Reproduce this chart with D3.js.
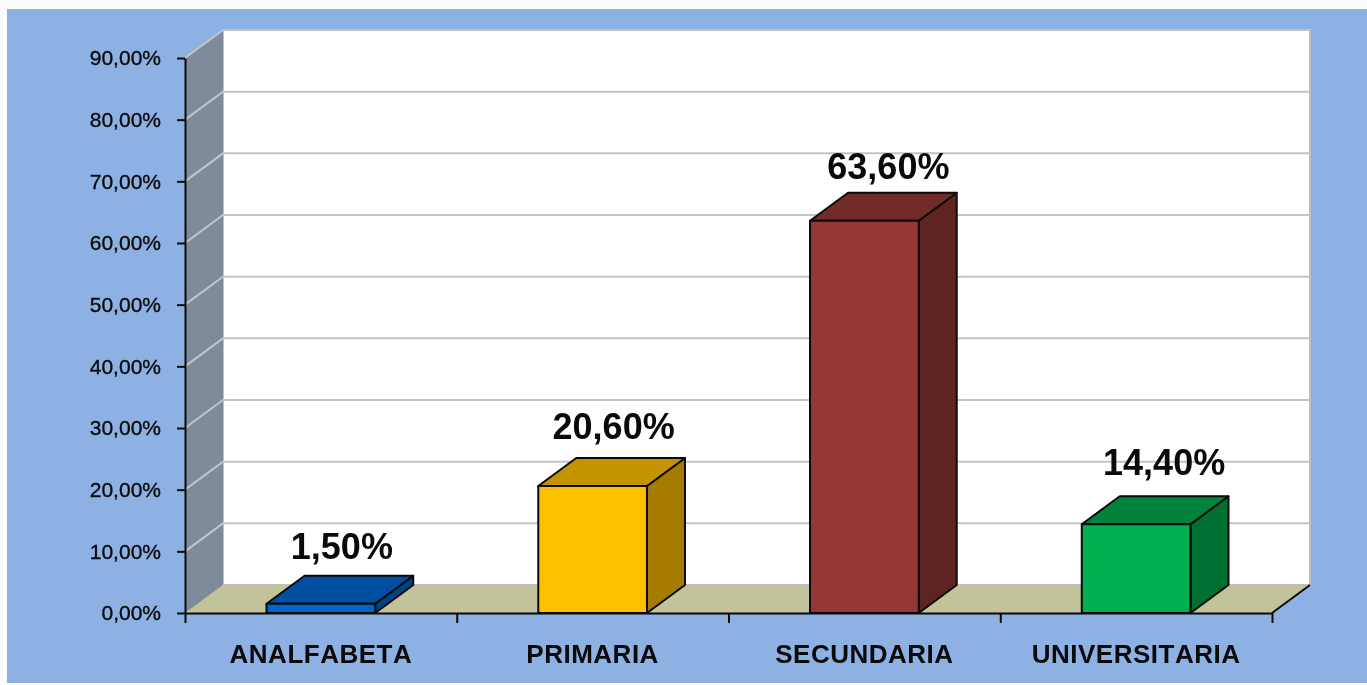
<!doctype html>
<html>
<head>
  <meta charset="utf-8">
  <style>
    html, body {
      margin: 0;
      padding: 0;
      width: 1367px;
      height: 685px;
      background: #fbfcfe;
      overflow: hidden;
    }
    svg { display: block; filter: blur(0.45px); }
    text { font-family: "Liberation Sans", Arial, sans-serif; fill: #0a0a0a; }
    .yaxis text { font-size: 21px; stroke: #0a0a0a; stroke-width: 0.35px; }
    .xaxis text { font-size: 26px; font-weight: bold; letter-spacing: 0.5px; font-kerning: none; }
    .value { font-size: 36px; font-weight: bold; text-anchor: middle; }
  </style>
  <script src="https://cdnjs.cloudflare.com/ajax/libs/d3/7.8.5/d3.min.js"></script>
</head>

<body>
  <svg id="chart" width="1367" height="685"></svg>

  <script>
    var categories = ['ANALFABETA', 'PRIMARIA', 'SECUNDARIA', 'UNIVERSITARIA'];
    var values = [1.5, 20.6, 63.6, 14.4];
    var valueLabels = ['1,50%', '20,60%', '63,60%', '14,40%'];
    var yTicks = [0, 10, 20, 30, 40, 50, 60, 70, 80, 90];
    var frontColors = ['#0066cc', '#ffc000', '#953735', '#00b050'];
    var topColors = ['#004fa0', '#c49300', '#722b29', '#00843c'];
    var sideColors = ['#004488', '#a67c00', '#5f2321', '#006f32'];

    var depthX = 38, depthY = 28;

    // the value labels were nudged by hand in the original
    var labelNudgeX = [21, 21, 24, 28];
    var labelNudgeY = [45, 47, 42, 49];

    var svg = d3.select('#chart');

    var y = d3.scaleLinear().domain([0, 90]).range([613, 58]);
    var x = d3.scaleBand().domain(categories).range([185, 1272]);
    var barWidth = x.bandwidth() * 0.4;

    // panel background
    svg.append('rect')
        .attr('x', 7).attr('y', 9)
        .attr('width', 1360).attr('height', 674)
        .attr('fill', '#8db1e2');

    var left = x.range()[0], right = x.range()[1];

    // back wall
    svg.append('rect')
        .attr('x', left + depthX).attr('y', y(90) - depthY)
        .attr('width', right - left).attr('height', y(0) - y(90))
        .attr('fill', '#ffffff')
        .attr('stroke', '#c0c0c0')
        .attr('stroke-width', 2);

    // side wall
    svg.append('path')
        .attr('d', d3.line()([
          [left, y(0)], [left + depthX, y(0) - depthY],
          [left + depthX, y(90) - depthY], [left, y(90)]
        ]) + 'Z')
        .attr('fill', '#7f8a9b');

    // floor
    svg.append('path')
        .attr('d', d3.line()([
          [left, y(0)], [left + depthX, y(0) - depthY],
          [right + depthX, y(0) - depthY], [right, y(0)]
        ]) + 'Z')
        .attr('fill', '#c2c29b');

    // gridlines
    var grid = svg.append('g')
        .attr('fill', 'none')
        .attr('stroke', '#c4c4c4')
        .attr('stroke-width', 2);

    yTicks.slice(1).forEach(function(t) {
      grid.append('path')
          .attr('d', d3.line()([
            [left, y(t)], [left + depthX, y(t) - depthY], [right + depthX, y(t) - depthY]
          ]));
    });

    // bars
    var bars = svg.selectAll('g.bar')
        .data(values)
        .enter().append('g')
        .attr('class', 'bar')
        .attr('stroke', '#0a0a0a')
        .attr('stroke-width', 2)
        .attr('stroke-linejoin', 'round');

    function x0(i) {
      return x(categories[i]) + (x.bandwidth() - barWidth) / 2;
    }

    bars.append('path')
        .attr('fill', function(d, i) { return sideColors[i]; })
        .attr('d', function(d, i) {
          var r = x0(i) + barWidth;
          return d3.line()([
            [r, y(0)], [r + depthX, y(0) - depthY],
            [r + depthX, y(d) - depthY], [r, y(d)]
          ]) + 'Z';
        });

    bars.append('path')
        .attr('fill', function(d, i) { return topColors[i]; })
        .attr('d', function(d, i) {
          var l = x0(i), r = l + barWidth;
          return d3.line()([
            [l, y(d)], [l + depthX, y(d) - depthY],
            [r + depthX, y(d) - depthY], [r, y(d)]
          ]) + 'Z';
        });

    bars.append('rect')
        .attr('fill', function(d, i) { return frontColors[i]; })
        .attr('x', function(d, i) { return x0(i); })
        .attr('y', function(d) { return y(d); })
        .attr('width', barWidth)
        .attr('height', function(d) { return y(0) - y(d); });

    // value labels
    svg.selectAll('text.value')
        .data(values)
        .enter().append('text')
        .attr('class', 'value')
        .attr('x', function(d, i) { return x0(i) + barWidth / 2 + labelNudgeX[i]; })
        .attr('y', function(d, i) { return y(d) - labelNudgeY[i]; })
        .text(function(d, i) { return valueLabels[i]; });

    // axes
    svg.append('g')
        .attr('class', 'yaxis')
        .attr('transform', 'translate(' + left + ',0)')
        .call(d3.axisLeft(y)
            .tickValues(yTicks)
            .tickSize(8)
            .tickSizeOuter(0)
            .tickPadding(16)
            .tickFormat(function(d) { return d + ',00%'; }));

    var xTicks = d3.scaleLinear().domain([0, categories.length]).range(x.range());
    svg.append('g')
        .attr('transform', 'translate(0,' + y(0) + ')')
        .call(d3.axisBottom(xTicks)
            .tickValues(d3.range(categories.length + 1))
            .tickSize(10)
            .tickSizeOuter(0)
            .tickFormat(''));

    var xAxis = svg.append('g')
        .attr('class', 'xaxis')
        .attr('transform', 'translate(0,' + y(0) + ')')
        .call(d3.axisBottom(x).tickSize(0).tickPadding(32));
    xAxis.select('.domain').remove();

    svg.selectAll('.domain, .tick line')
        .attr('stroke', '#0a0a0a')
        .attr('stroke-width', 2);

    // floor front edge to the corner
    svg.append('path')
        .attr('d', d3.line()([[right, y(0)], [right + depthX, y(0) - depthY]]))
        .attr('stroke', '#0a0a0a')
        .attr('stroke-width', 2);
  </script>
</body>
</html>
